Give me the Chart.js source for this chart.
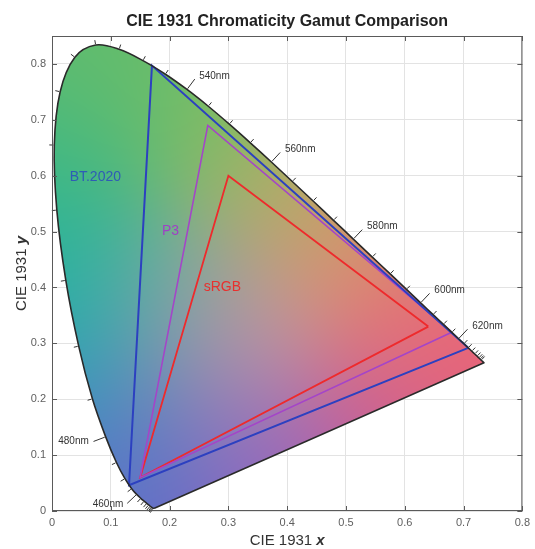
<!DOCTYPE html>
<html>
<head>
<meta charset="utf-8">
<script src="https://cdn.jsdelivr.net/npm/chart.js@4.4.0/dist/chart.umd.min.js"></script>
<style>
  html, body { margin: 0; padding: 0; background: #fff; }
  #chart { display: block; }
</style>
</head>
<body>
<canvas id="chart" width="535" height="549"></canvas>
<script>
// CIE 1931 2° spectral locus, 5 nm steps
const wavelengths = [380,385,390,395,400,405,410,415,420,425,430,435,440,445,450,455,460,465,470,475,
  480,485,490,495,500,505,510,515,520,525,530,535,540,545,550,555,560,565,570,575,580,585,590,595,
  600,605,610,615,620,625,630,635,640,645,650,655,660,665,670,675,680,685,690,695,700];
const locusX = [0.1741,0.1740,0.1738,0.1736,0.1733,0.1730,0.1726,0.1721,0.1714,0.1703,0.1689,0.1669,
  0.1644,0.1611,0.1566,0.1510,0.1440,0.1355,0.1241,0.1096,0.0913,0.0687,0.0454,0.0235,0.0082,0.0039,
  0.0139,0.0389,0.0743,0.1142,0.1547,0.1929,0.2296,0.2658,0.3016,0.3373,0.3731,0.4087,0.4441,0.4788,
  0.5125,0.5448,0.5752,0.6029,0.6270,0.6482,0.6658,0.6801,0.6915,0.7006,0.7079,0.7140,0.7190,0.7230,
  0.7260,0.7283,0.7300,0.7311,0.7320,0.7327,0.7334,0.7340,0.7344,0.7346,0.7347];
const locusY = [0.0050,0.0050,0.0049,0.0049,0.0048,0.0048,0.0048,0.0048,0.0051,0.0058,0.0069,0.0086,
  0.0109,0.0138,0.0177,0.0227,0.0297,0.0399,0.0578,0.0868,0.1327,0.2007,0.2950,0.4127,0.5384,0.6548,
  0.7502,0.8120,0.8338,0.8262,0.8059,0.7816,0.7543,0.7243,0.6923,0.6589,0.6245,0.5896,0.5547,0.5202,
  0.4866,0.4544,0.4242,0.3965,0.3725,0.3514,0.3340,0.3197,0.3083,0.2993,0.2920,0.2859,0.2809,0.2770,
  0.2740,0.2717,0.2700,0.2689,0.2680,0.2673,0.2666,0.2660,0.2656,0.2654,0.2653];
const labeledNm = [460, 480, 540, 560, 580, 600, 620];

// gamut triangles (R, G, B, back to R)
const gamutNames = ['BT.2020', 'P3', 'sRGB'];
const bt2020X = [0.708, 0.170, 0.131, 0.708];
const bt2020Y = [0.292, 0.797, 0.046, 0.292];
const p3X = [0.680, 0.265, 0.150, 0.680];
const p3Y = [0.320, 0.690, 0.060, 0.320];
const srgbX = [0.640, 0.300, 0.150, 0.640];
const srgbY = [0.330, 0.600, 0.060, 0.330];
const gamutLabelX = [0.030, 0.187, 0.258];
const gamutLabelY = [0.598, 0.500, 0.400];
const gamutColors = ['#2c40c0', '#a445c8', '#ee2a2c'];
const gamutTextColors = ['#2f5cb6', '#9e42c4', '#e8302e'];

const xTicks = [0, 0.1, 0.2, 0.3, 0.4, 0.5, 0.6, 0.7, 0.8];
const yTicks = [0, 0.1, 0.2, 0.3, 0.4, 0.5, 0.6, 0.7, 0.8];

// colour anchors for the muted fill (x, y, r, g, b)
const fillAnchors = [
  [0.08, 0.80, 98, 188, 108],
  [0.03, 0.62, 62, 184, 132],
  [0.02, 0.42, 32, 180, 160],
  [0.06, 0.25, 45, 160, 185],
  [0.12, 0.10, 70, 130, 200],
  [0.16, 0.02, 105, 100, 200],
  [0.35, 0.08, 150, 100, 190],
  [0.55, 0.18, 200, 95, 150],
  [0.72, 0.27, 235, 95, 120],
  [0.62, 0.36, 232, 115, 115],
  [0.50, 0.47, 215, 150, 105],
  [0.38, 0.58, 175, 175, 100],
  [0.25, 0.70, 120, 190, 100],
  [0.33, 0.33, 205, 150, 160],
  [0.20, 0.40, 110, 172, 160],
  [0.25, 0.20, 150, 130, 185]
];

function pts(xs, ys) { return xs.map((x, i) => ({ x, y: ys[i] })); }

function fillColor(x, y) {
  let r = 0, g = 0, b = 0, ws = 0;
  const s2 = 2 * 0.11 * 0.11;
  for (const a of fillAnchors) {
    const dx = x - a[0], dy = y - a[1];
    const w = Math.exp(-(dx * dx + dy * dy) / s2) + 1e-12;
    r += w * a[2]; g += w * a[3]; b += w * a[4]; ws += w;
  }
  return [r / ws, g / ws, b / ws];
}

const decor = {
  id: 'decor',
  beforeDatasetsDraw(chart) {
    const { ctx, chartArea: ca, scales: { x: xs, y: ys } } = chart;
    const w = Math.round(ca.right - ca.left), h = Math.round(ca.bottom - ca.top);
    const off = document.createElement('canvas');
    off.width = w; off.height = h;
    const octx = off.getContext('2d');
    const img = octx.createImageData(w, h);
    for (let j = 0; j < h; j++) {
      const yv = ys.getValueForPixel(ca.top + j + 0.5);
      for (let i = 0; i < w; i++) {
        const xv = xs.getValueForPixel(ca.left + i + 0.5);
        const c = fillColor(xv, yv);
        const k = (j * w + i) * 4;
        img.data[k] = c[0]; img.data[k + 1] = c[1]; img.data[k + 2] = c[2]; img.data[k + 3] = 255;
      }
    }
    octx.putImageData(img, 0, 0);
    // clip to the locus line element itself (same smoothed curve)
    const line = chart.getDatasetMeta(0).dataset;
    line.updateControlPoints(ca, 'x');
    ctx.save();
    ctx.beginPath();
    line.path(ctx);
    ctx.closePath();
    ctx.clip();
    ctx.drawImage(off, ca.left, ca.top);
    ctx.restore();
  },
  afterDatasetsDraw(chart) {
    const { ctx, scales: { x: xs, y: ys } } = chart;
    ctx.save();
    // wavelength ticks
    ctx.strokeStyle = '#333';
    ctx.lineWidth = 1;
    ctx.fillStyle = '#333';
    ctx.font = '10px "Liberation Sans", Arial, sans-serif';
    ctx.textBaseline = 'middle';
    for (let i = 1; i < wavelengths.length - 1; i++) {
      const nm = wavelengths[i];
      if (nm < 420 || nm > 660) continue;
      const px = xs.getPixelForValue(locusX[i]), py = ys.getPixelForValue(locusY[i]);
      const tx = xs.getPixelForValue(locusX[i + 1]) - xs.getPixelForValue(locusX[i - 1]);
      const ty = ys.getPixelForValue(locusY[i + 1]) - ys.getPixelForValue(locusY[i - 1]);
      const len = Math.hypot(tx, ty);
      if (len < 0.5) continue;
      const nx = ty / len, ny = -tx / len;
      const big = labeledNm.includes(nm);
      const L = big ? 13 : 5;
      ctx.beginPath();
      ctx.moveTo(px + nx * 1, py + ny * 1);
      ctx.lineTo(px + nx * L, py + ny * L);
      ctx.stroke();
      if (big) {
        ctx.textAlign = nx < 0 ? 'right' : 'left';
        ctx.fillText(nm + 'nm', px + nx * 17 + (nx < 0 ? -1 : 2), py + ny * 17 - (nx < 0 ? 2 : 0));
      }
    }
    // gamut labels
    ctx.font = '14px "Liberation Sans", Arial, sans-serif';
    ctx.textAlign = 'left';
    gamutNames.forEach((n, i) => {
      ctx.fillStyle = gamutTextColors[i];
      ctx.fillText(n, xs.getPixelForValue(gamutLabelX[i]), ys.getPixelForValue(gamutLabelY[i]));
    });
    ctx.restore();
  },
  afterDraw(chart) {
    const { ctx, chartArea: ca, scales: { x: xs, y: ys } } = chart;
    ctx.save();
    // axes box and inward ticks
    ctx.strokeStyle = '#5a5a5a';
    ctx.lineWidth = 1;
    ctx.strokeRect(ca.left + 0.5, ca.top + 0.5, ca.right - ca.left - 1, ca.bottom - ca.top - 1);
    ctx.beginPath();
    xTicks.forEach(v => {
      const px = Math.round(xs.getPixelForValue(v)) + 0.5;
      ctx.moveTo(px, ca.bottom); ctx.lineTo(px, ca.bottom - 5);
      ctx.moveTo(px, ca.top); ctx.lineTo(px, ca.top + 5);
    });
    yTicks.forEach(v => {
      const py = Math.round(ys.getPixelForValue(v)) + 0.5;
      ctx.moveTo(ca.left, py); ctx.lineTo(ca.left + 5, py);
      ctx.moveTo(ca.right, py); ctx.lineTo(ca.right - 5, py);
    });
    ctx.stroke();

    const cx = (ca.left + ca.right) / 2;
    // title
    ctx.fillStyle = '#222';
    ctx.textAlign = 'center';
    ctx.textBaseline = 'middle';
    ctx.font = 'bold 16px "Liberation Sans", Arial, sans-serif';
    ctx.fillText('CIE 1931 Chromaticity Gamut Comparison', cx, 22);

    // axis titles: "CIE 1931 " + bold italic variable
    function axisTitle(prefix, v, x, y, rot) {
      ctx.save();
      ctx.translate(x, y);
      ctx.rotate(rot);
      const f1 = '15px "Liberation Sans", Arial, sans-serif';
      const f2 = 'italic bold 15px "Liberation Sans", Arial, sans-serif';
      ctx.font = f1; const w1 = ctx.measureText(prefix).width;
      ctx.font = f2; const w2 = ctx.measureText(v).width;
      ctx.textAlign = 'left';
      ctx.fillStyle = '#333';
      ctx.font = f1; ctx.fillText(prefix, -(w1 + w2) / 2, 0);
      ctx.font = f2; ctx.fillText(v, -(w1 + w2) / 2 + w1, 0);
      ctx.restore();
    }
    axisTitle('CIE 1931 ', 'x', cx, 541, 0);
    axisTitle('CIE 1931 ', 'y', 22, (ca.top + ca.bottom) / 2, -Math.PI / 2);
    ctx.restore();
  }
};

const tickFont = { family: '"Liberation Sans", Arial, sans-serif', size: 11 };

new Chart(document.getElementById('chart'), {
  type: 'scatter',
  data: {
    datasets: [
      { label: 'Spectral locus', data: pts(locusX.concat(locusX[0]), locusY.concat(locusY[0])),
        showLine: true, borderColor: '#2a2a2a', borderWidth: 1.6, pointRadius: 0, fill: false,
        tension: 0.35 },
      { label: gamutNames[0], data: pts(bt2020X, bt2020Y), showLine: true,
        borderColor: gamutColors[0], borderWidth: 2, pointRadius: 0 },
      { label: gamutNames[1], data: pts(p3X, p3Y), showLine: true,
        borderColor: gamutColors[1], borderWidth: 1.6, pointRadius: 0 },
      { label: gamutNames[2], data: pts(srgbX, srgbY), showLine: true,
        borderColor: gamutColors[2], borderWidth: 1.8, pointRadius: 0 }
    ]
  },
  options: {
    responsive: false,
    animation: false,
    devicePixelRatio: 1,
    layout: { padding: { left: 0, top: 36, right: 8, bottom: 0 } },
    plugins: { legend: { display: false }, tooltip: { enabled: false }, title: { display: false } },
    scales: {
      x: {
        type: 'linear', min: 0, max: 0.8,
        afterBuildTicks: s => { s.ticks = xTicks.map(v => ({ value: v })); },
        afterFit: s => { s.height = 38; },
        ticks: { color: '#5f5f5f', font: tickFont, padding: 5, maxRotation: 0,
          callback: v => String(Math.round(v * 10) / 10) },
        grid: { color: '#e3e3e3', drawTicks: false },
        border: { display: false }
      },
      y: {
        type: 'linear', min: 0, max: 0.85,
        afterBuildTicks: s => { s.ticks = yTicks.map(v => ({ value: v })); },
        afterFit: s => { s.width = 52; },
        ticks: { color: '#5f5f5f', font: tickFont, padding: 6,
          callback: v => String(Math.round(v * 10) / 10) },
        grid: { color: '#e3e3e3', drawTicks: false },
        border: { display: false }
      }
    }
  },
  plugins: [decor]
});
</script>
</body>
</html>
